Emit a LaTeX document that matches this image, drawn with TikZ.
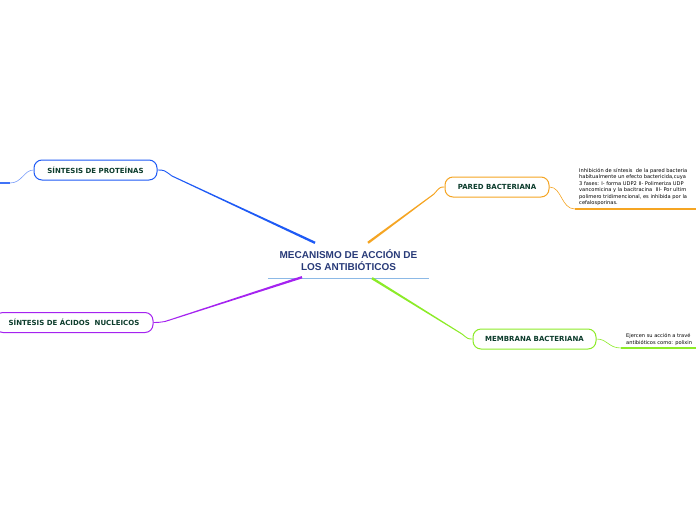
\documentclass[tikz,border=0pt]{standalone}
\usepackage{fontspec}
\setmainfont{DejaVu Sans}
\newfontfamily\titlefont{Liberation Sans}
\usetikzlibrary{calc}
\definecolor{mytitle}{RGB}{40,58,120}
\definecolor{mylabel}{RGB}{12,60,44}
\definecolor{myline}{RGB}{140,185,230}
\definecolor{myblue}{RGB}{30,90,245}
\definecolor{myorange}{RGB}{245,165,35}
\definecolor{mypurple}{RGB}{165,35,240}
\definecolor{mygreen}{RGB}{140,235,40}
% tapered stroke from #1 to #2
\newcommand{\taper}[3]{%
  \fill[#3] ($(#1)!1.2pt!90:(#2)$) -- ($(#2)!0.5pt!-90:(#1)$)
    -- ($(#2)!0.5pt!90:(#1)$) -- ($(#1)!1.2pt!-90:(#2)$) -- cycle;}

\begin{document}
\begin{tikzpicture}[x=1pt,y=-1pt,
          mainnode/.style={font=\titlefont\bfseries\fontsize{10}{12}\selectfont,text=mytitle,
            align=center,minimum width=161,minimum height=35,inner sep=0pt},
          branchbox/.style={draw=#1,rounded corners=8pt,line width=1pt,fill=white,
            minimum height=20,inner sep=0pt,font=\bfseries\fontsize{7}{8}\selectfont,text=mylabel},
          leafnote/.style={anchor=south west,align=left,inner sep=0pt,
            font=\fontsize{5.1}{6.5}\selectfont,text=black},
          thin/.style={line width=0.6pt}
          ]
          \useasboundingbox (0,0) rectangle (696,520);
          \clip (0,0) rectangle (696,520);

          % the central topic
          \node[mainnode] (title) at (348.5,260.5) {MECANISMO DE ACCIÓN DE\\LOS ANTIBIÓTICOS};
          \draw[myline,line width=1.2pt] (title.south west) -- (title.south east);

          % the main branches
          \node[branchbox=myblue,minimum width=123] (prot) at (95.5,170) {SÍNTESIS DE PROTEÍNAS};
          \node[branchbox=myorange,minimum width=104] (pared) at (497,187) {PARED BACTERIANA};
          \node[branchbox=mypurple,minimum width=158] (acid) at (74,322.5) {SÍNTESIS DE ÁCIDOS\ \ NUCLEICOS};
          \node[branchbox=mygreen,minimum width=123] (memb) at (534.5,339) {MEMBRANA BACTERIANA};

          % where the branches leave the topic
          \coordinate (s1) at ($(title.north)+(-33.5,0)$);
          \coordinate (s2) at ($(title.north)+(19.5,0)$);
          \coordinate (s3) at ($(title.south)+(-46.5,-1)$);
          \coordinate (s4) at ($(title.south)+(23.5,0)$);
          \coordinate (b1) at (172,176);
          \coordinate (b2) at (434,194);
          \coordinate (b3) at (165,321.5);
          \coordinate (b4) at (462,334);

          % the connectors
          \foreach \s/\b/\c in {s1/b1/myblue,s2/b2/myorange,s3/b3/mypurple,s4/b4/mygreen}
            \taper{\s}{\b}{\c};
          \draw[myblue,line width=0.9pt] (b1) .. controls (164,170) .. (prot.east);
          \draw[myorange,line width=0.9pt] (b2) .. controls (440,187) .. (pared.west);
          \draw[mypurple,line width=0.9pt] (b3) .. controls (158,322.5) .. (acid.east);
          \draw[mygreen,line width=0.9pt] (b4) .. controls (468,339) .. (memb.west);

          % the leaves
          \coordinate (leaf1) at (10,183);
          \coordinate (leaf1end) at (-10,183);
          \draw[myblue!60,thin] (prot.west) .. controls (24,170) and (22,183) .. (leaf1);
          \draw[myblue!85,line width=2pt] (leaf1) -- (leaf1end);

          \coordinate (leaf2) at (575,209);
          \coordinate (leaf2end) at (700,209);
          \draw[myorange,thin] (pared.east) .. controls (562,187) and (561,209) .. (leaf2);
          \draw[myorange,line width=2pt] (leaf2) -- (leaf2end);
          \node[leafnote] (note2) at (579,206) {Inhibición de síntesis\ \ de la pared bacteria\\
            habitualmente un efecto bactericida,cuya\\
            3 fases: I- forma UDP2 II- Polimeriza UDP\\
            vancomicina y la bacitracina\ \ III- Por ultim\\
            polimero tridimencional, es inhibida por la\\
            cefalosporinas.};

          \coordinate (leaf3) at (621,348);
          \coordinate (leaf3end) at (700,348);
          \draw[mygreen,thin] (memb.east) .. controls (608,339) and (608,348) .. (leaf3);
          \draw[mygreen,line width=2pt] (leaf3) -- (leaf3end);
          \node[leafnote] (note3) at (626,345.5) {Ejercen su acción a travé\\
            antibióticos como: polixin};
        \end{tikzpicture}
\end{document}
